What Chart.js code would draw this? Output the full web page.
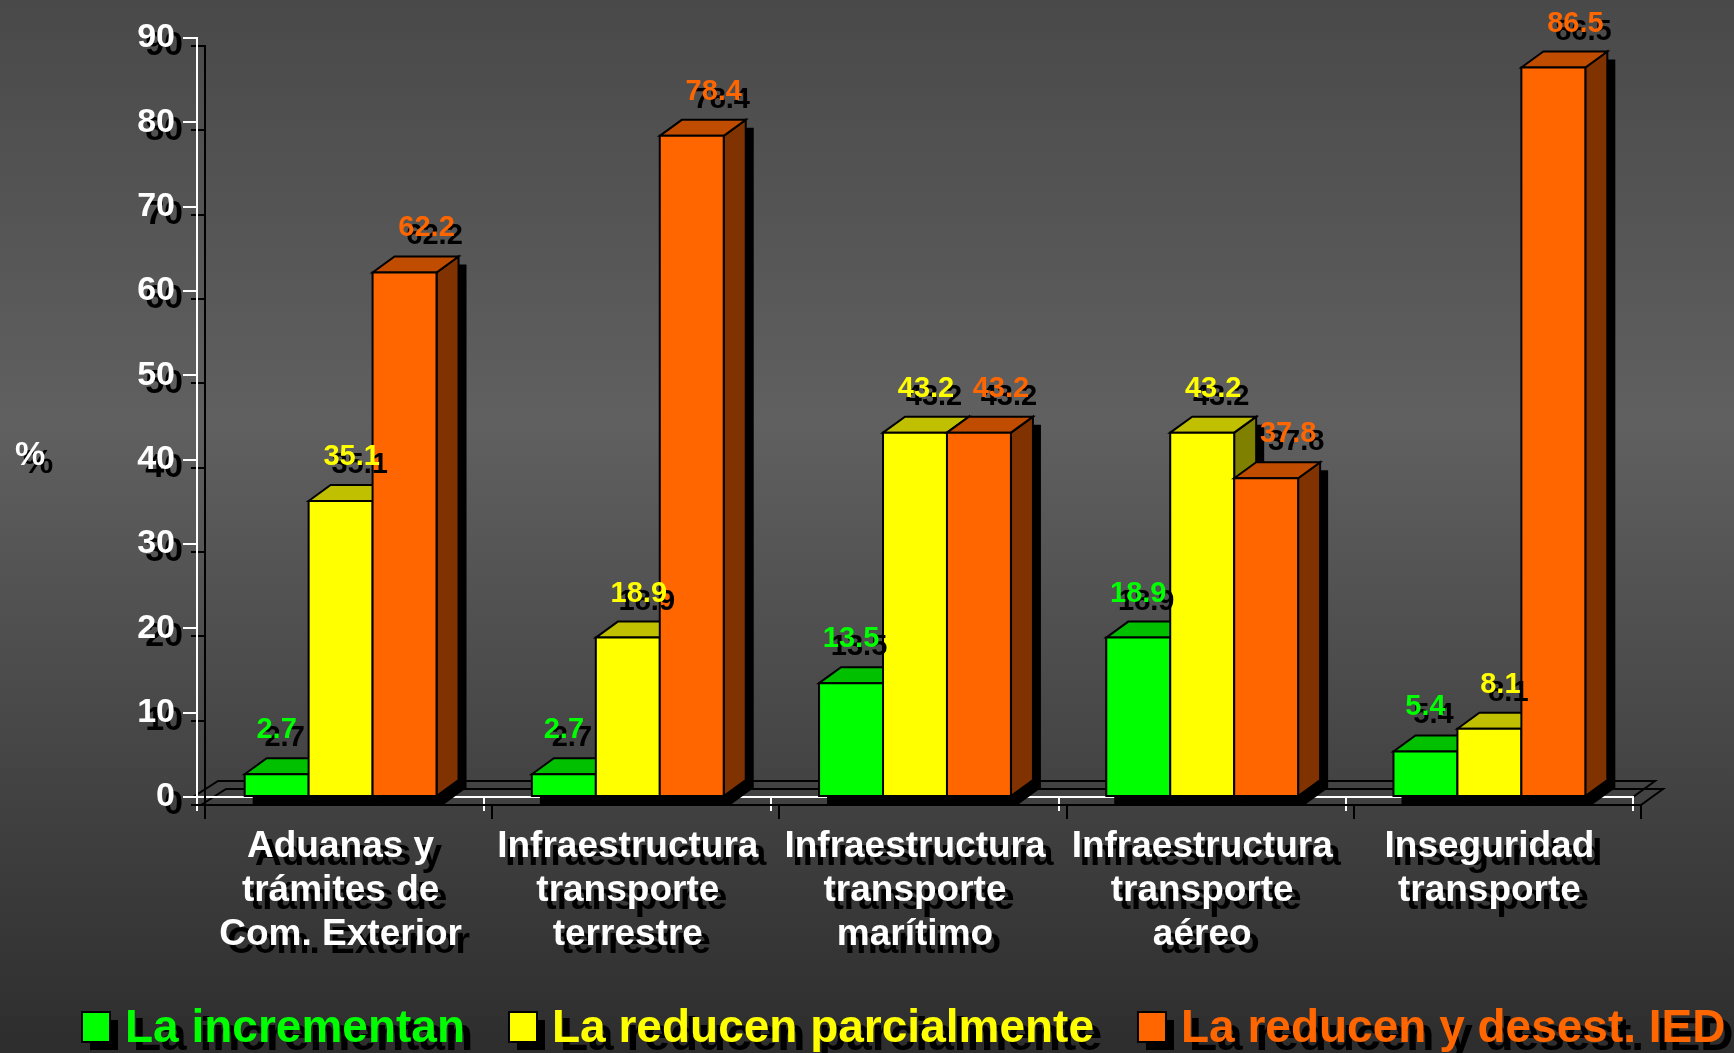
<!DOCTYPE html>
<html>
<head>
<meta charset="utf-8">
<script src="https://cdn.jsdelivr.net/npm/chart.js@4.4.1/dist/chart.umd.min.js"></script>
<style>
  html, body { margin: 0; padding: 0; background: #3a3a3a; overflow: hidden; }
  canvas { display: block; }
</style>
</head>
<body>
<canvas id="c" width="1734" height="1053"></canvas>
<script>
// ---- data ----
const categories = [
  ['Aduanas y', 'trámites de', 'Com. Exterior'],
  ['Infraestructura', 'transporte', 'terrestre'],
  ['Infraestructura', 'transporte', 'marítimo'],
  ['Infraestructura', 'transporte', 'aéreo'],
  ['Inseguridad', 'transporte']
];
const seriesNames = ['La incrementan', 'La reducen parcialmente', 'La reducen y desest. IED'];
const incrementan = [2.7, 2.7, 13.5, 18.9, 5.4];
const reducenParcialmente = [35.1, 18.9, 43.2, 43.2, 8.1];
const reducenDesestIED = [62.2, 78.4, 43.2, 37.8, 86.5];
const yTickValues = [0, 10, 20, 30, 40, 50, 60, 70, 80, 90];
const yAxisLabel = '%';

// ---- styles ----
const FONT = '"Liberation Sans", Arial, sans-serif';
const faceColors = [
  { front: '#00ff00', top: '#00c000', side: '#008000', text: '#00ff00', labelDx: 0 },
  { front: '#ffff00', top: '#c0c000', side: '#808000', text: '#ffff00', labelDx: 11 },
  { front: '#ff6600', top: '#c04c00', side: '#803300', text: '#ff6600', labelDx: 22 }
];
const DEPTH_X = 22, DEPTH_Y = 16;
const SH = 8; // shadow offset

function shadowOn(ctx) { ctx.shadowColor = '#000'; ctx.shadowBlur = 0; ctx.shadowOffsetX = SH; ctx.shadowOffsetY = SH; }
function shadowOff(ctx) { ctx.shadowColor = 'rgba(0,0,0,0)'; ctx.shadowOffsetX = 0; ctx.shadowOffsetY = 0; }

const bar3d = {
  id: 'bar3d',
  beforeDraw(chart) {
    const { ctx, width, height, chartArea: a } = chart;
    ctx.save();
    shadowOff(ctx);
    const g = ctx.createLinearGradient(0, 0, 0, height);
    g.addColorStop(0, '#494949');
    g.addColorStop(0.4, '#606060');
    g.addColorStop(1, '#2d2d2d');
    ctx.fillStyle = g;
    ctx.fillRect(0, 0, width, height);
    // floor
    shadowOn(ctx);
    ctx.strokeStyle = '#000';
    ctx.lineWidth = 2;
    const y0 = a.bottom, xl = a.left - 4, xr = a.right;
    ctx.beginPath();
    ctx.moveTo(xl, y0);
    ctx.lineTo(xl + DEPTH_X + 3, y0 - DEPTH_Y);
    ctx.lineTo(xr + DEPTH_X, y0 - DEPTH_Y);
    ctx.lineTo(xr, y0);
    ctx.stroke();
    ctx.restore();
    shadowOn(ctx);
  },
  beforeDatasetDraw() { return false; },
  afterDatasetsDraw(chart) {
    const { ctx } = chart;
    ctx.save();
    shadowOff(ctx);
    ctx.lineWidth = 2;
    ctx.strokeStyle = '#000';
    ctx.lineJoin = 'miter';
    const n = chart.data.labels.length;
    for (let i = 0; i < n; i++) {
      chart.data.datasets.forEach((ds, d) => {
        const el = chart.getDatasetMeta(d).data[i];
        const c = faceColors[d];
        const x0 = el.x - el.width / 2, x1 = el.x + el.width / 2;
        const yt = el.y, yb = el.base;
        // shadow silhouette
        ctx.fillStyle = '#000';
        ctx.beginPath();
        ctx.moveTo(x0 + SH, yb + SH);
        ctx.lineTo(x0 + SH, yt + SH);
        ctx.lineTo(x0 + DEPTH_X + SH, yt - DEPTH_Y + SH);
        ctx.lineTo(x1 + DEPTH_X + SH, yt - DEPTH_Y + SH);
        ctx.lineTo(x1 + DEPTH_X + SH, yb - DEPTH_Y + SH);
        ctx.lineTo(x1 + SH, yb + SH);
        ctx.closePath();
        ctx.fill();
        // side
        ctx.fillStyle = c.side;
        ctx.beginPath();
        ctx.moveTo(x1, yb);
        ctx.lineTo(x1, yt);
        ctx.lineTo(x1 + DEPTH_X, yt - DEPTH_Y);
        ctx.lineTo(x1 + DEPTH_X, yb - DEPTH_Y);
        ctx.closePath();
        ctx.fill(); ctx.stroke();
        // top
        ctx.fillStyle = c.top;
        ctx.beginPath();
        ctx.moveTo(x0, yt);
        ctx.lineTo(x0 + DEPTH_X, yt - DEPTH_Y);
        ctx.lineTo(x1 + DEPTH_X, yt - DEPTH_Y);
        ctx.lineTo(x1, yt);
        ctx.closePath();
        ctx.fill(); ctx.stroke();
        // front
        ctx.fillStyle = c.front;
        ctx.beginPath();
        ctx.rect(x0, yt, x1 - x0, yb - yt);
        ctx.fill(); ctx.stroke();
      });
    }
    // data labels
    shadowOn(ctx);
    ctx.font = 'bold 29px ' + FONT;
    ctx.textAlign = 'center';
    ctx.textBaseline = 'middle';
    chart.data.datasets.forEach((ds, d) => {
      const meta = chart.getDatasetMeta(d);
      meta.data.forEach((el, i) => {
        ctx.fillStyle = faceColors[d].text;
        ctx.fillText(String(ds.data[i]), el.x + faceColors[d].labelDx, el.y - 44);
      });
    });
    ctx.restore();
    shadowOn(ctx);
  },
  afterDraw(chart) {
    const { ctx } = chart;
    ctx.save();
    shadowOn(ctx);
    // y axis unit label
    ctx.fillStyle = '#ffffff';
    ctx.font = 'bold 34px ' + FONT;
    ctx.textAlign = 'center';
    ctx.textBaseline = 'middle';
    ctx.fillText(yAxisLabel, 30, 456);
    // legend
    ctx.font = 'bold 46px ' + FONT;
    ctx.textAlign = 'left';
    ctx.textBaseline = 'alphabetic';
    let x = 82;
    chart.data.datasets.forEach((ds, d) => {
      const c = faceColors[d];
      ctx.fillStyle = c.front;
      ctx.lineWidth = 2;
      ctx.strokeStyle = '#000';
      ctx.fillRect(x, 1012, 28, 30);
      shadowOff(ctx);
      ctx.strokeRect(x, 1012, 28, 30);
      shadowOn(ctx);
      ctx.fillStyle = c.text;
      const tx = x + 43;
      ctx.fillText(ds.label, tx, 1042);
      x = tx + ctx.measureText(ds.label).width + 44;
    });
    ctx.restore();
    shadowOff(ctx);
  }
};

const datasets = [incrementan, reducenParcialmente, reducenDesestIED].map((vals, d) => ({
  label: seriesNames[d],
  data: vals,
  backgroundColor: faceColors[d].front,
  borderWidth: 0,
  categoryPercentage: 0.668,
  barPercentage: 1.0
}));

new Chart(document.getElementById('c'), {
  type: 'bar',
  data: { labels: categories, datasets },
  plugins: [bar3d],
  options: {
    responsive: false,
    devicePixelRatio: 1,
    animation: false,
    layout: { padding: { top: 38, right: 101, bottom: 0, left: 0 } },
    plugins: { legend: { display: false }, tooltip: { enabled: false } },
    scales: {
      x: {
        afterFit(s) { s.height = 256; },
        grid: { display: true, drawOnChartArea: false, drawTicks: true, tickLength: 14, color: '#ffffff', lineWidth: 2, offset: true },
        border: { display: true, color: '#ffffff', width: 2 },
        ticks: {
          color: '#ffffff',
          font: { family: FONT, size: 37, weight: 'bold', lineHeight: 44 / 37 },
          padding: 14,
          maxRotation: 0,
          autoSkip: false
        }
      },
      y: {
        min: yTickValues[0],
        max: yTickValues[yTickValues.length - 1],
        afterFit(s) { s.width = 197; },
        afterBuildTicks(s) { s.ticks = yTickValues.map(v => ({ value: v })); },
        grid: { display: true, drawOnChartArea: false, drawTicks: true, tickLength: 14, color: '#ffffff', lineWidth: 2 },
        border: { display: true, color: '#ffffff', width: 2 },
        ticks: {
          color: '#ffffff',
          font: { family: FONT, size: 34, weight: 'bold' },
          padding: 8
        }
      }
    }
  }
});
</script>
</body>
</html>
